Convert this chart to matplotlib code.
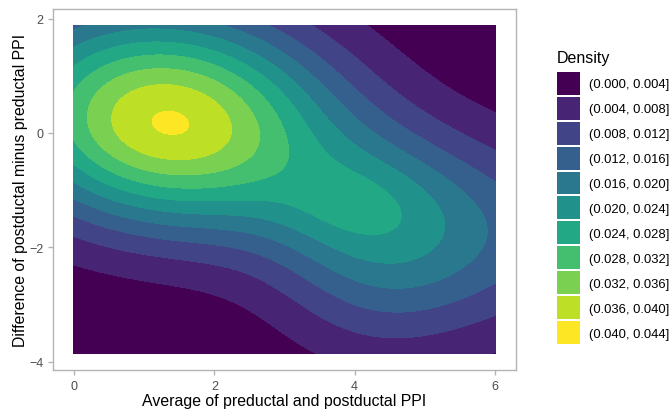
import numpy as np
import matplotlib.pyplot as plt
from matplotlib.patches import Patch

plt.rcParams['font.family'] = ['Liberation Sans', 'DejaVu Sans']

# range of the data (the density grid covers this box)
x_range = [0.0, 6.0]
y_range = [-3.86, 1.88]

# density bins shown in the legend
breaks = [0.000, 0.004, 0.008, 0.012, 0.016, 0.020, 0.024, 0.028, 0.032, 0.036, 0.040, 0.044]
bin_labels = ['(0.000, 0.004]', '(0.004, 0.008]', '(0.008, 0.012]', '(0.012, 0.016]',
              '(0.016, 0.020]', '(0.020, 0.024]', '(0.024, 0.028]', '(0.028, 0.032]',
              '(0.032, 0.036]', '(0.036, 0.040]', '(0.040, 0.044]']

# gaussian bumps that build up the density surface
# (spread above / below the centre given separately)
comp_x = [1.35, 4.35, 6.2, 3.85]
comp_y = [0.18, -1.7, -1.8, -1.25]
comp_sx = [1.7, 1.1, 1.6, 0.7]
comp_sy_up = [1.38, 1.2, 1.2, 0.55]
comp_sy_dn = [1.3, 1.45, 1.2, 0.55]
comp_rho = [-0.1, 0.0, 0.0, 0.0]
comp_amp = [0.0403, 0.0136, 0.0105, 0.003]

x_ticks = [0, 2, 4, 6]
y_ticks = [-4, -2, 0, 2]

# density grid
gx = np.linspace(x_range[0], x_range[1], 300)
gy = np.linspace(y_range[0], y_range[1], 300)
X, Y = np.meshgrid(gx, gy)
Z = np.zeros_like(X)
for cx, cy, sx, syu, syd, r, a in zip(comp_x, comp_y, comp_sx, comp_sy_up, comp_sy_dn,
                                      comp_rho, comp_amp):
    u = (X - cx) / sx
    v = (Y - cy) / np.where(Y >= cy, syu, syd)
    q = (u**2 - 2*r*u*v + v**2) / (1 - r**2)
    Z += a * np.exp(-q / 2)

colors = plt.cm.viridis(np.linspace(0, 1, len(bin_labels)))

fig = plt.figure(figsize=(6.72, 4.10), dpi=100)
ax = fig.add_axes([53/672, 39/410, 463/672, 361/410])
cs = ax.contourf(X, Y, Z, levels=breaks, colors=colors)
cs.set_edgecolor('face')
cs.set_linewidth(0.4)

# ggplot style 5% expansion
xpad = 0.05 * (x_range[1] - x_range[0])
ypad = 0.05 * (y_range[1] - y_range[0])
ax.set_xlim(x_range[0] - xpad, x_range[1] + xpad)
ax.set_ylim(y_range[0] - ypad, y_range[1] + ypad)

ax.set_xticks(x_ticks)
ax.set_yticks(y_ticks)
ax.tick_params(colors='#B3B3B3', labelcolor='#4D4D4D', labelsize=9, length=3.5, width=1)
for s in ax.spines.values():
    s.set_color('#B3B3B3')
    s.set_linewidth(1)

ax.set_xlabel('Average of preductal and postductal PPI', fontsize=11.4, labelpad=1)
ax.set_ylabel('Difference of postductal minus preductal PPI', fontsize=11.4, labelpad=1)

# legend: title as its own text, keys below it
fig.text(557/672, 1 - 58/410, 'Density', fontsize=11.5, va='center', ha='left')
handles = [Patch(facecolor=c, edgecolor='none') for c in colors]
leg = fig.legend(handles, bin_labels, loc='upper left',
                 bbox_to_anchor=(548/672, 1 - 63.5/410), frameon=False,
                 fontsize=9.4, handlelength=1.76, handleheight=2.33,
                 labelspacing=0.153, handletextpad=0.69, borderpad=0.2)

fig.savefig('out.png', dpi=100)
